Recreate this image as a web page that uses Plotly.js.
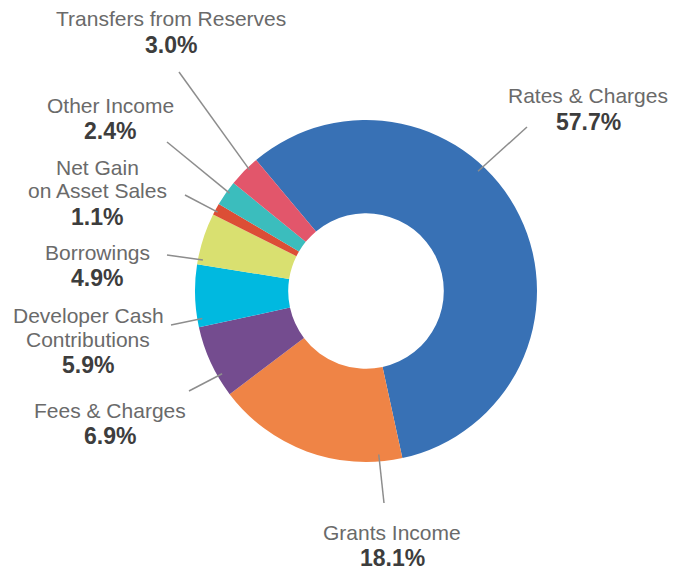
<!DOCTYPE html>
<html>
<head>
<meta charset="utf-8">
<script src="https://cdn.plot.ly/plotly-3.0.1.min.js"></script>
<style>html,body{margin:0;padding:0;background:#fff;}#chart{width:688px;height:570px;}</style>
</head>
<body>
<div id="chart"></div>
<script>
// ---- data ----
var categories = ["Rates & Charges", "Grants Income", "Fees & Charges", "Developer Cash Contributions", "Borrowings", "Net Gain on Asset Sales", "Other Income", "Transfers from Reserves"];
var shares = [57.7, 18.1, 6.9, 5.9, 4.9, 1.1, 2.4, 3.0];
var labelLines = [["Rates & Charges"], ["Grants Income"], ["Fees & Charges"], ["Developer Cash", "Contributions"], ["Borrowings"], ["Net Gain", "on Asset Sales"], ["Other Income"], ["Transfers from Reserves"]];

// ---- styling / layout ----
var colors = ["#3871b5", "#ef8446", "#744c8f", "#00b9e0", "#d9e070", "#dc4e36", "#3bbdbd", "#e2566b"];
var W = 688, H = 570;
var cx = 366, cy = 291, R = 171, holeFrac = 0.455;
var rotation = -40;
// label placement (px): text centre x, first line centre y
var labelX = [588, 392, 110, 88, 97, 97, 110, 171];
var labelY = [96, 532, 410, 315, 252, 167, 105, 19];
// leader: position along the slice (fraction), radius (px) of inner end, outer end (px)
var anchorFrac = [0.40, 0.12, 0.29, 0.13, 0.10, 0.35, 0.59, 0.64];
var anchorR = [164, 164, 166, 166, 166, 168, 168, 168];
var outerX = [527, 384, 189, 171, 167, 185, 167, 179];
var outerY = [127, 503, 391, 325, 255, 195, 142, 72];

function px(x) { return x / W; }
function py(y) { return 1 - y / H; }

var trace = {
  type: "pie",
  labels: categories,
  values: shares,
  sort: false,
  direction: "clockwise",
  rotation: rotation,
  hole: holeFrac,
  marker: { colors: colors, line: { width: 0 } },
  textinfo: "none",
  hoverinfo: "label+percent",
  showlegend: false,
  domain: { x: [px(cx - R), px(cx + R)], y: [py(cy + R), py(cy - R)] }
};

var total = shares.reduce(function (a, b) { return a + b; }, 0);
var shapes = [], annotations = [];
var start = rotation;
for (var i = 0; i < shares.length; i++) {
  var span = shares[i] / total * 360;
  var ang = (start + span * anchorFrac[i]) * Math.PI / 180;
  var ax = cx + anchorR[i] * Math.sin(ang);
  var ay = cy - anchorR[i] * Math.cos(ang);
  shapes.push({ type: "line", xref: "paper", yref: "paper",
    x0: px(ax), y0: py(ay), x1: px(outerX[i]), y1: py(outerY[i]),
    line: { color: "#8d8d8d", width: 1.5 } });
  var y = labelY[i];
  for (var j = 0; j < labelLines[i].length; j++) {
    annotations.push({ xref: "paper", yref: "paper", x: px(labelX[i]), y: py(y),
      xanchor: "center", yanchor: "middle", showarrow: false, text: labelLines[i][j],
      font: { family: "Liberation Sans, Arial, sans-serif", size: 21, color: "#6a6a6a" } });
    y += 24;
  }
  y += 2;
  annotations.push({ xref: "paper", yref: "paper", x: px(labelX[i]), y: py(y),
    xanchor: "center", yanchor: "middle", showarrow: false, text: "<b>" + shares[i].toFixed(1) + "%</b>",
    font: { family: "Liberation Sans, Arial, sans-serif", size: 23, color: "#3d3d3d" } });
  start += span;
}

var layout = {
  width: W, height: H,
  margin: { l: 0, r: 0, t: 0, b: 0 },
  paper_bgcolor: "#ffffff",
  plot_bgcolor: "#ffffff",
  shapes: shapes,
  annotations: annotations
};

Plotly.newPlot("chart", [trace], layout, { displayModeBar: false, staticPlot: true });
</script>
</body>
</html>
